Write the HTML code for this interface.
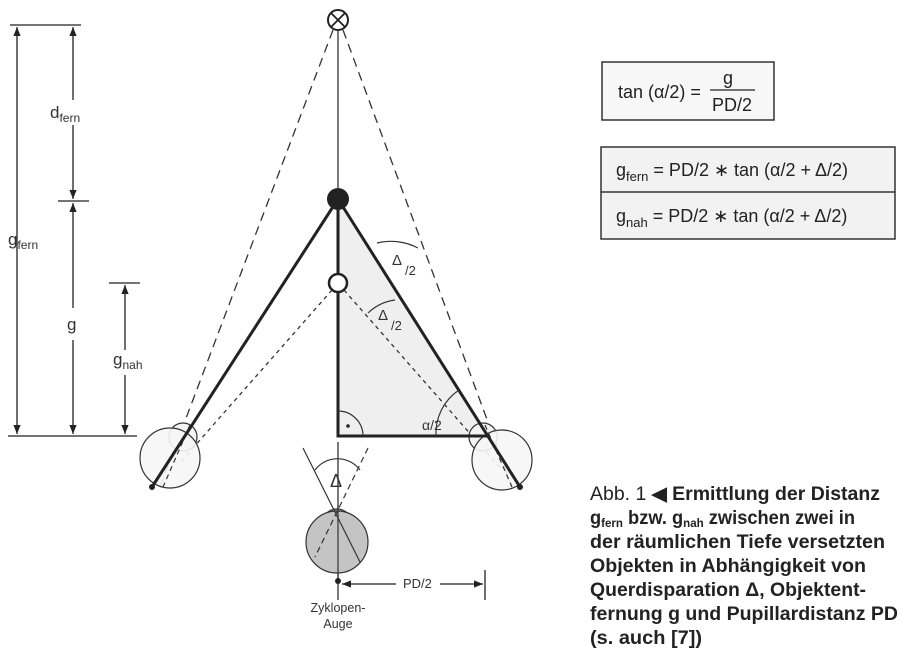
<!DOCTYPE html>
<html><head><meta charset="utf-8"><style>
body{margin:0;background:#fff;}
svg{display:block;font-family:"Liberation Sans",sans-serif;}
</style></head><body>
<svg width="908" height="672" viewBox="0 0 908 672">
<defs>
<marker id="ah" viewBox="0 0 10 10" refX="10" refY="5" markerWidth="7" markerHeight="9" orient="auto-start-reverse"><path d="M0,1 L10,5 L0,9z" fill="#222"/></marker>
</defs>
<g stroke="#222" stroke-width="1.3" fill="none">
<!-- dimension ticks -->
<line x1="10" y1="25" x2="81" y2="25"/>
<line x1="58" y1="201" x2="89" y2="201"/>
<line x1="109" y1="283" x2="140" y2="283"/>
<line x1="8" y1="436" x2="137" y2="436"/>
<line x1="17" y1="27" x2="17" y2="434" marker-start="url(#ah)" marker-end="url(#ah)"/>
<line x1="73" y1="27" x2="73" y2="100" marker-start="url(#ah)"/>
<line x1="73" y1="125" x2="73" y2="199" marker-end="url(#ah)"/>
<line x1="73" y1="203" x2="73" y2="308" marker-start="url(#ah)"/>
<line x1="73" y1="340" x2="73" y2="434" marker-end="url(#ah)"/>
<line x1="125" y1="285" x2="125" y2="350" marker-start="url(#ah)"/>
<line x1="125" y1="375" x2="125" y2="434" marker-end="url(#ah)"/>
</g>
<g font-size="17" fill="#333">
<text x="50" y="118">d<tspan font-size="12" dy="4">fern</tspan></text>
<text x="8" y="245">g<tspan font-size="12" dy="4">fern</tspan></text>
<text x="67" y="330">g</text>
<text x="113" y="365">g<tspan font-size="12" dy="4">nah</tspan></text>
</g>
<!-- triangle fill -->
<polygon points="338,199 338,436 488,436" fill="#efefef"/>
<!-- dashed lines -->
<g stroke="#333" stroke-width="1.3" fill="none">
<line x1="333" y1="30" x2="160" y2="487" stroke-dasharray="9,6"/>
<line x1="343" y1="30" x2="512" y2="487" stroke-dasharray="9,6"/>
<line x1="332" y1="290" x2="178" y2="465" stroke-dasharray="4,4"/>
<line x1="344" y1="290" x2="502" y2="470" stroke-dasharray="4,4"/>
<line x1="338" y1="31" x2="338" y2="199"/>
<line x1="338" y1="442" x2="338" y2="600"/>
</g>
<!-- eyes -->
<g stroke="#333" stroke-width="1.2">
<circle cx="183" cy="437" r="14" fill="#f4f4f4"/>
<circle cx="170" cy="458" r="30" fill="#f6f6f6" fill-opacity="0.9"/>
<circle cx="483" cy="437" r="14" fill="#f4f4f4"/>
<circle cx="502" cy="460" r="30" fill="#f6f6f6" fill-opacity="0.9"/>
<circle cx="337" cy="524" r="15" fill="#bbb"/>
<circle cx="337" cy="542" r="31" fill="#c4c4c4"/>
</g>
<g stroke="#333" stroke-width="1.2" fill="none">
<line x1="190" y1="425" x2="163" y2="487" stroke-dasharray="5,4"/>
<line x1="485" y1="425" x2="512" y2="487" stroke-dasharray="5,4"/>
<line x1="338" y1="505" x2="338" y2="580"/>
<line x1="303" y1="448" x2="360" y2="562"/>
<line x1="368" y1="448" x2="315" y2="557" stroke-dasharray="6,4"/>
<path d="M315,470 A28,28 0 0 1 360,470"/>
</g>
<!-- thick lines -->
<g stroke="#222" stroke-width="3" fill="none" stroke-linecap="round">
<line x1="338" y1="199" x2="152" y2="487"/>
<line x1="338" y1="199" x2="520" y2="487"/>
<polyline points="338,199 338,436 488,436"/>
</g>
<circle cx="152" cy="487" r="3" fill="#222"/>
<circle cx="520" cy="487" r="3" fill="#222"/>
<circle cx="338" cy="581" r="3" fill="#222"/>
<!-- angle arcs -->
<g stroke="#333" stroke-width="1.2" fill="none">
<path d="M377,243 A58,58 0 0 1 418,248"/>
<path d="M368,313 A48,48 0 0 1 395,300"/>
<path d="M436,436 A52,52 0 0 1 459,390"/>
<path d="M338,411 A25,25 0 0 1 363,436"/>
</g>
<circle cx="348" cy="426" r="1.8" fill="#222"/>
<!-- points -->
<circle cx="338" cy="199" r="11" fill="#222"/>
<circle cx="338" cy="283" r="9" fill="#fff" stroke="#222" stroke-width="2.5"/>
<circle cx="338" cy="20" r="10" fill="#fff" stroke="#222" stroke-width="2"/>
<path d="M331,13 L345,27 M345,13 L331,27" stroke="#222" stroke-width="1.8"/>
<g font-size="15" fill="#333">
<text x="392" y="265">Δ</text><text x="405" y="275" font-size="13">/2</text>
<text x="378" y="320">Δ</text><text x="391" y="330" font-size="13">/2</text>
<text x="422" y="430" font-size="14">α/2</text>
<text x="330" y="487" font-size="18">Δ</text>
<text x="403" y="588" font-size="13">PD/2</text>
<text x="338" y="612" font-size="12.5" text-anchor="middle">Zyklopen-</text>
<text x="338" y="628" font-size="12.5" text-anchor="middle">Auge</text>
</g>
<g stroke="#222" stroke-width="1.3">
<line x1="342" y1="584" x2="396" y2="584" marker-start="url(#ah)"/>
<line x1="440" y1="584" x2="483" y2="584" marker-end="url(#ah)"/>
<line x1="485" y1="570" x2="485" y2="600"/>
</g>
<!-- formula boxes -->
<rect x="602" y="62" width="172" height="58" fill="#f7f7f7" stroke="#333" stroke-width="1.5"/>
<g font-size="18" fill="#222">
<text x="618" y="98">tan (α/2) =</text>
<text x="728" y="84" text-anchor="middle">g</text>
<line x1="710" y1="90" x2="755" y2="90" stroke="#222" stroke-width="1.2"/>
<text x="732" y="111" text-anchor="middle">PD/2</text>
</g>
<rect x="601" y="147" width="294" height="92" fill="#f2f2f2" stroke="#333" stroke-width="1.5"/>
<line x1="601" y1="192" x2="895" y2="192" stroke="#333" stroke-width="1.5"/>
<g font-size="18" fill="#222">
<text x="616" y="176">g<tspan font-size="13" dy="5">fern</tspan><tspan dy="-5"> = PD/2  ∗  tan (α/2 + Δ/2)</tspan></text>
<text x="616" y="222">g<tspan font-size="13" dy="5">nah</tspan><tspan dy="-5">  = PD/2  ∗  tan (α/2 + Δ/2)</tspan></text>
</g>
<!-- caption -->
<g font-size="19" fill="#222" font-weight="bold">
<text x="590" y="500" textLength="290" lengthAdjust="spacingAndGlyphs"><tspan font-weight="normal">Abb. 1 </tspan>◀ Ermittlung der Distanz</text>
<text x="590" y="524" textLength="265" lengthAdjust="spacingAndGlyphs">g<tspan font-size="12" dy="3">fern</tspan><tspan dy="-3"> bzw. g</tspan><tspan font-size="12" dy="3">nah</tspan><tspan dy="-3"> zwischen zwei in</tspan></text>
<text x="590" y="548" textLength="295" lengthAdjust="spacingAndGlyphs">der räumlichen Tiefe versetzten</text>
<text x="590" y="572" textLength="276" lengthAdjust="spacingAndGlyphs">Objekten in Abhängigkeit von</text>
<text x="590" y="596" textLength="276" lengthAdjust="spacingAndGlyphs">Querdisparation Δ, Objektent-</text>
<text x="590" y="620" textLength="308" lengthAdjust="spacingAndGlyphs">fernung g und Pupillardistanz PD</text>
<text x="590" y="644" textLength="112" lengthAdjust="spacingAndGlyphs">(s. auch [7])</text>
</g>
</svg>
</body></html>
